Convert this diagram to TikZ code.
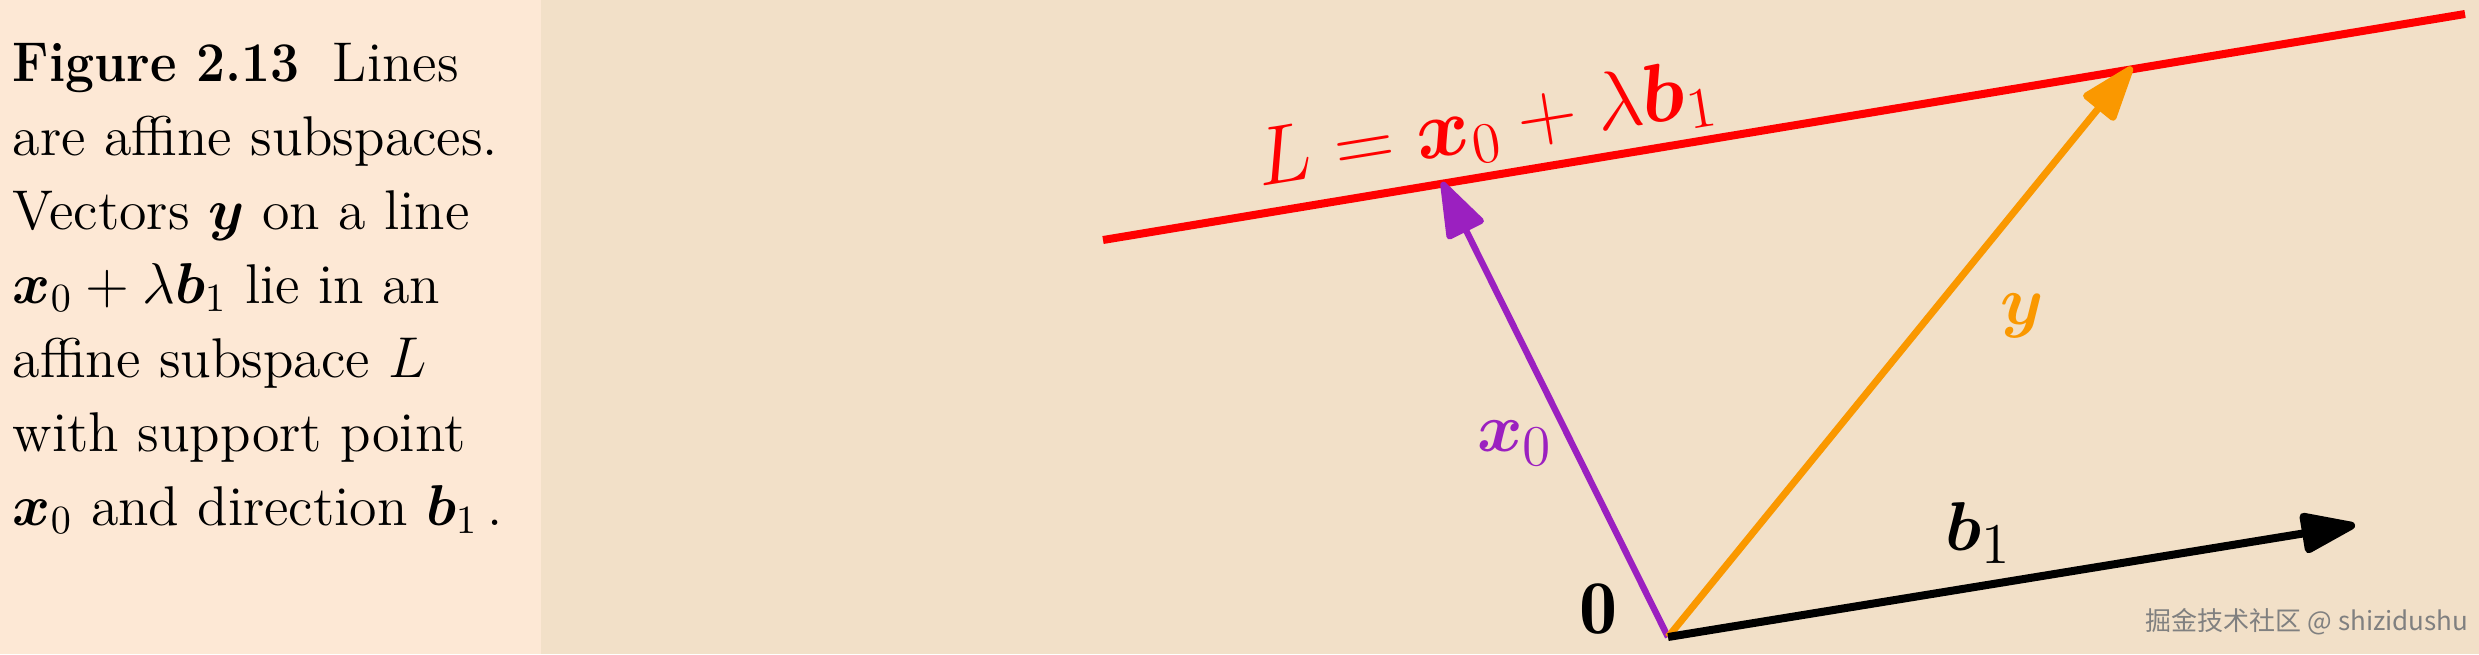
\documentclass[tikz,border=0pt]{standalone}
\usepackage{amsmath,bm}
\usepackage{fontspec}
\newfontfamily\cjkfont{Noto Sans CJK SC}
\usetikzlibrary{arrows.meta}
\definecolor{capbg}{RGB}{253,232,213}
\definecolor{figbg}{RGB}{242,224,200}
\definecolor{lred}{RGB}{255,0,0}
\definecolor{vpurple}{RGB}{155,32,192}
\definecolor{vorange}{RGB}{250,152,0}
\tikzset{
  capline/.style={anchor=base west, inner sep=0pt, font=\fontsize{14}{18.5}\selectfont},
  lbl/.style={inner sep=0pt, font=\fontsize{19}{23}\selectfont},
  vectip/.style={-{Triangle[length=15.5pt,width=10.5pt,round]}},
  linestyle/.style={draw=lred, line width=2pt},
  vx/.style={vectip, draw=vpurple, fill=vpurple, line width=1.6pt},
  vy/.style={vectip, draw=vorange, fill=vorange, line width=1.75pt},
  vb/.style={vectip, draw=black, fill=black, line width=2pt},
  wmark/.style={anchor=base west, inner sep=0pt, text=black!50, font=\cjkfont\fontsize{6.5}{8}\selectfont}
}
\begin{document}
\begin{tikzpicture}[x=0.25pt, y=-0.25pt]
\useasboundingbox (0,0) rectangle (2479,654);
\fill[capbg] (0,0) rectangle (541,654);
\fill[figbg] (541,0) rectangle (2479,654);
% caption
\node[capline] (c1) at (12,81)  {\scalebox{0.92}[1]{\textbf{Figure 2.13}}\hspace{0.6em}Lines};
\node[capline] (c2) at (12,155) {are affine subspaces.};
\node[capline] (c3) at (12,229) {Vectors $\bm{y}$ on a line};
\node[capline] (c4) at (12,303) {$\bm{x}_0 + \lambda\bm{b}_1$ lie in an};
\node[capline] (c5) at (12,377) {affine subspace $L$};
\node[capline] (c6) at (12,451) {with support point};
\node[capline] (c7) at (12,525) {$\bm{x}_0$ and direction $\bm{b}_1$\,.};
% geometry
\coordinate (Ls) at (1103,240);
\coordinate (Le) at (2465,14);
\coordinate (O)  at (1668,637);
\coordinate (X0) at (1442,182);
\coordinate (Y)  at (2132,67);
\coordinate (B1) at (2355,525);
\draw[linestyle] (Ls) -- (Le);
\draw[vx] (O) -- (X0);
\draw[vy] (O) -- (Y);
\draw[vb] (O) -- (B1);
% labels
\node[lbl, text=lred, rotate=9.2, font=\fontsize{21}{25}\selectfont] (lL) at (1486,127) {$L = \bm{x}_0 + \lambda\bm{b}_1$};
\node[lbl, text=vpurple] (lx) at (1515,443) {$\bm{x}_0$};
\node[lbl, text=vorange] (ly) at (2022,316) {$\bm{y}$};
\node[lbl] (lb) at (1979,533) {$\bm{b}_1$};
\node[lbl] (lo) at (1598,609) {$\mathbf{0}$};
\node[wmark] (wm) at (2145,630) {掘金技术社区 @ shizidushu};
\end{tikzpicture}
\end{document}
